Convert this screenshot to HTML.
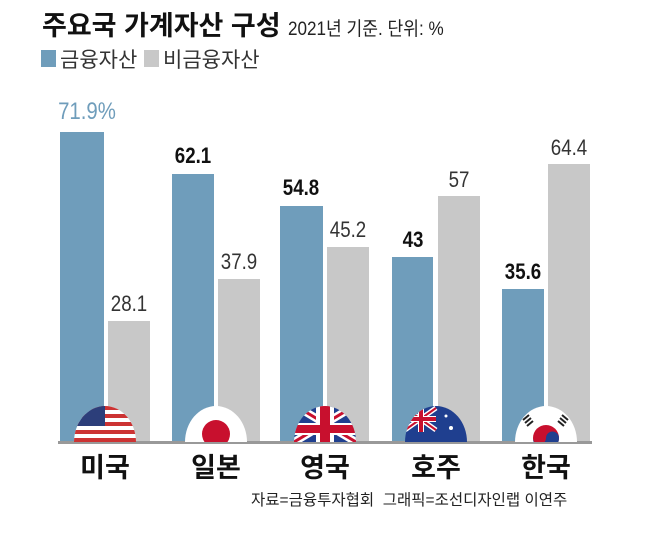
<!DOCTYPE html>
<html><head><meta charset="utf-8"><style>
body{margin:0;background:#fff;width:646px;height:535px;overflow:hidden;position:relative;font-family:"Liberation Sans","Noto Sans CJK KR",sans-serif}
.a{position:absolute}
.b{position:absolute;background:#6f9dbb}
.g{position:absolute;background:#c8c8c8}
.v{position:absolute;font-size:22px;text-align:center;width:60px;color:#333;transform:scaleX(0.85)}
.vb{font-weight:bold;color:#111}
.c{position:absolute;top:446px;font-size:27px;font-weight:bold;width:100px;text-align:center;color:#111}
</style></head><body>
<div class="a" style="left:42px;top:4px;font-size:27px;font-weight:bold;color:#111">주요국 가계자산 구성 <span style="font-size:19px;font-weight:normal;color:#222;display:inline-block;transform:scaleX(0.9);transform-origin:left">2021년 기준. 단위: %</span></div>
<div class="a" style="left:41px;top:50px;width:15px;height:17px;background:#6f9dbb"></div>
<div class="a" style="left:60px;top:44px;font-size:21px;color:#333">금융자산</div>
<div class="a" style="left:144px;top:50px;width:15px;height:17px;background:#c8c8c8"></div>
<div class="a" style="left:163px;top:44px;font-size:21px;color:#333">비금융자산</div>

<div class="b" style="left:60px;top:132px;width:44px;height:310px"></div>
<div class="g" style="left:108px;top:321px;width:42px;height:121px"></div>
<div class="v" style="left:52px;top:98px;color:#6f9dbb;font-size:24px;width:70px">71.9%</div>
<div class="v" style="left:99px;top:291px">28.1</div>

<div class="b" style="left:172px;top:174px;width:42px;height:268px"></div>
<div class="g" style="left:218px;top:279px;width:42px;height:163px"></div>
<div class="v vb" style="left:163px;top:143px">62.1</div>
<div class="v" style="left:209px;top:249px">37.9</div>

<div class="b" style="left:280px;top:206px;width:43px;height:236px"></div>
<div class="g" style="left:327px;top:247px;width:42px;height:195px"></div>
<div class="v vb" style="left:271px;top:175px">54.8</div>
<div class="v" style="left:318px;top:217px">45.2</div>

<div class="b" style="left:392px;top:257px;width:41px;height:185px"></div>
<div class="g" style="left:438px;top:196px;width:42px;height:246px"></div>
<div class="v vb" style="left:383px;top:227px">43</div>
<div class="v" style="left:429px;top:167px">57</div>

<div class="b" style="left:502px;top:289px;width:42px;height:153px"></div>
<div class="g" style="left:548px;top:164px;width:42px;height:278px"></div>
<div class="v vb" style="left:493px;top:259px">35.6</div>
<div class="v" style="left:539px;top:135px">64.4</div>

<div class="a" style="left:58px;top:441px;width:534px;height:3px;background:#999"></div>

<svg class="a" style="left:0;top:0" width="646" height="535">
<defs>
<clipPath id="c1"><path d="M74,442 A31,36 0 0 1 136,442 Z"/></clipPath>
<clipPath id="c2"><path d="M185,442 A31,36 0 0 1 247,442 Z"/></clipPath>
<clipPath id="c3"><path d="M294,442 A31,36 0 0 1 356,442 Z"/></clipPath>
<clipPath id="c4"><path d="M405,442 A31,36 0 0 1 467,442 Z"/></clipPath>
<clipPath id="c5"><path d="M515,442 A31,36 0 0 1 577,442 Z"/></clipPath>
</defs>
<g clip-path="url(#c1)"><rect x="74" y="405" width="62" height="37" fill="#fff"/>
<rect x="74" y="406" width="62" height="4" fill="#c33"/><rect x="74" y="414" width="62" height="4" fill="#c33"/><rect x="74" y="422" width="62" height="4" fill="#c33"/><rect x="74" y="430" width="62" height="4" fill="#c33"/><rect x="74" y="438" width="62" height="4" fill="#c33"/>
<rect x="74" y="405" width="31" height="21" fill="#2c3e7a"/></g>
<g clip-path="url(#c2)"><rect x="185" y="405" width="62" height="37" fill="#fff"/><circle cx="216" cy="434" r="14" fill="#c8102e"/></g>
<g clip-path="url(#c3)"><rect x="294" y="405" width="62" height="37" fill="#1f3f8f"/>
<path d="M294,405 L356,442 M356,405 L294,442" stroke="#fff" stroke-width="8"/>
<path d="M294,405 L356,442 M356,405 L294,442" stroke="#c8102e" stroke-width="3"/>
<rect x="316" y="405" width="18" height="37" fill="#fff"/><rect x="294" y="423" width="62" height="12" fill="#fff"/>
<rect x="320" y="405" width="10" height="37" fill="#c8102e"/><rect x="294" y="425" width="62" height="8" fill="#c8102e"/></g>
<g clip-path="url(#c4)"><rect x="405" y="405" width="62" height="37" fill="#1f3f8f"/>
<path d="M405,408 L436,430 M436,408 L405,430" stroke="#fff" stroke-width="5"/>
<path d="M405,408 L436,430 M436,408 L405,430" stroke="#c8102e" stroke-width="2"/>
<rect x="418" y="405" width="6" height="27" fill="#fff"/><rect x="405" y="416" width="31" height="6" fill="#fff"/>
<rect x="419" y="405" width="4" height="27" fill="#c8102e"/><rect x="405" y="417" width="31" height="4" fill="#c8102e"/>
<circle cx="451" cy="428" r="2" fill="#fff"/><circle cx="446" cy="416" r="1.5" fill="#fff"/></g>
<g clip-path="url(#c5)"><rect x="515" y="405" width="62" height="37" fill="#fff"/><circle cx="546" cy="438" r="13" fill="#c8102e"/><path d="M533,438 A13,13 0 0 0 559,438 A6.5,6.5 0 0 0 546,438 A6.5,6.5 0 0 1 533,438Z" fill="#1f3f8f"/>
<path d="M523,420 l6,-5 M525,423 l6,-5 M527,426 l6,-5 M562,415 l6,5 M560,418 l6,5 M558,421 l6,5" stroke="#222" stroke-width="2"/></g>
</svg>

<div class="c" style="left:55px">미국</div>
<div class="c" style="left:166px">일본</div>
<div class="c" style="left:275px">영국</div>
<div class="c" style="left:386px">호주</div>
<div class="c" style="left:496px">한국</div>
<div class="a" style="left:251px;top:488px;font-size:15.5px;color:#222;white-space:nowrap">자료=금융투자협회 &nbsp;그래픽=조선디자인랩 이연주</div>
</body></html>
